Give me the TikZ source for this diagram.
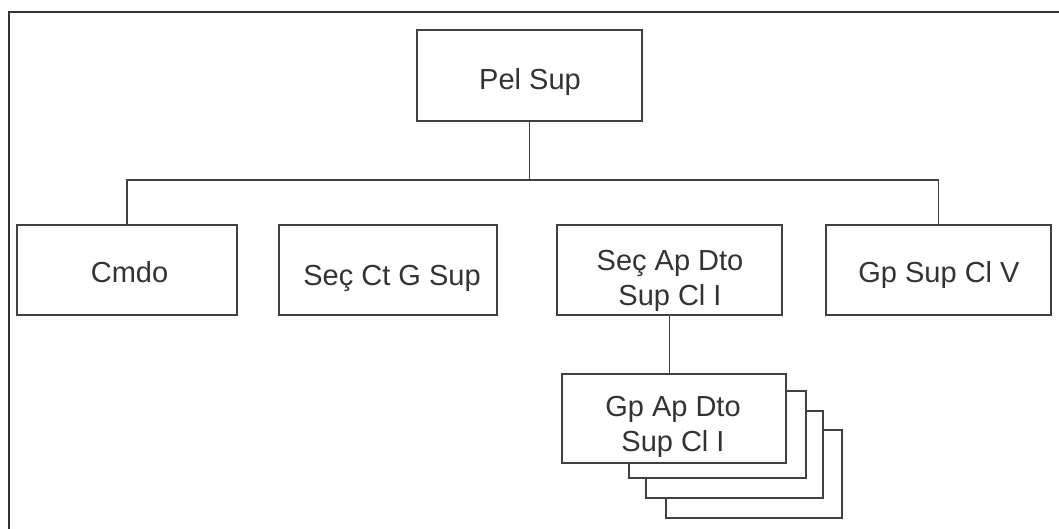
\documentclass[tikz,border=0pt]{standalone}
\usepackage{fontspec}
\setmainfont{Liberation Sans}
\begin{document}
\begin{tikzpicture}[x=1pt,y=-1pt,
  box/.style={draw=black!75, line width=1.7pt, fill=white, inner sep=0pt},
  lbl/.style={inner sep=0pt, align=center, text=black!80, font=\fontsize{29}{35}\selectfont},
  conn/.style={draw=black!75, line width=1.8pt},
  frame/.style={draw=black!80, line width=2.2pt}]
\useasboundingbox (0,0) rectangle (1059,529);
\draw[frame] (9,530) -- (9,12) -- (1060,12);
% top
\node[box, minimum width=225pt, minimum height=91pt] (pel) at (529.5,75.5) {};
\node[lbl, anchor=base] (pelt) at (530,90) {Pel Sup};
% row
\node[box, minimum width=220pt, minimum height=90pt] (cmdo) at (127,270) {};
\node[lbl, anchor=base] (cmdot) at (129.5,282) {Cmdo};
\node[box, minimum width=218pt, minimum height=90pt] (sct) at (388,270) {};
\node[lbl, anchor=base] (sctt) at (392,285) {Seç Ct G Sup};
\node[box, minimum width=225pt, minimum height=90pt] (sap) at (669.5,270) {};
\node[lbl] (sapt) at (670,281) {Seç Ap Dto\\Sup Cl I};
\node[box, minimum width=225pt, minimum height=90pt] (gpv) at (938.5,270) {};
\node[lbl, anchor=base] (gpvt) at (939,282) {Gp Sup Cl V};
% stack
\node[box, minimum width=176pt, minimum height=88pt] (st3) at (754,474) {};
\node[box, minimum width=177pt, minimum height=87pt] (st2) at (734.5,454.5) {};
\node[box, minimum width=177pt, minimum height=87pt] (st1) at (717.5,434.5) {};
\node[box, minimum width=224pt, minimum height=89pt] (gap) at (674,418.5) {};
\node[lbl] (gapt) at (673,426.5) {Gp Ap Dto\\Sup Cl I};
% connectors
\coordinate (bus) at (0,180);
\draw[conn] (pel.south) -- (pel.south |- bus);
\draw[conn] (cmdo.north) -- (cmdo.north |- bus) -- (gpv.north |- bus) -- (gpv.north);
\draw[conn] (sap.south) -- (sap.south |- gap.north);
\end{tikzpicture}
\end{document}
